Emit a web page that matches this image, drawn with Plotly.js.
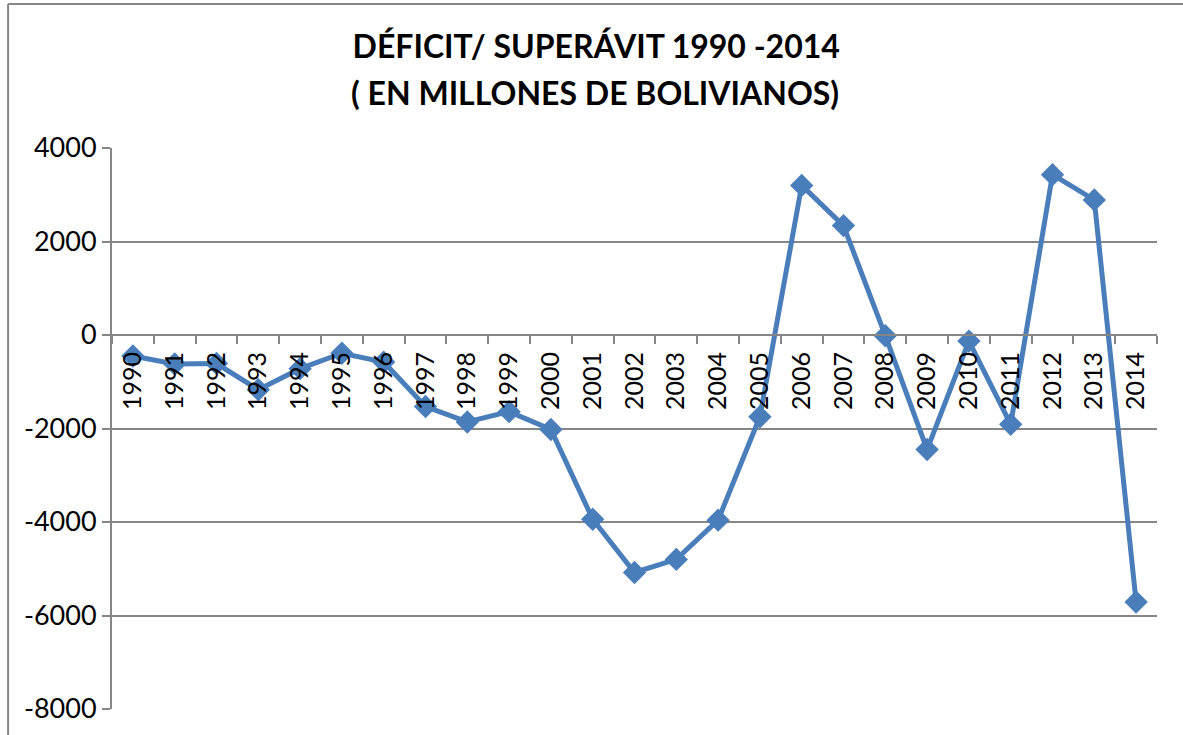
<!DOCTYPE html>
<html>
<head>
<meta charset="utf-8">
<script src="https://cdn.plot.ly/plotly-3.0.1.min.js"></script>
<style>
html,body{margin:0;padding:0;background:#fff;}
#chart{width:1183px;height:735px;}
</style>
</head>
<body>
<div id="chart"></div>
<script>
const years = ['1990','1991','1992','1993','1994','1995','1996','1997','1998','1999','2000','2001','2002','2003','2004','2005','2006','2007','2008','2009','2010','2011','2012','2013','2014'];
const balance = [-450,-620,-610,-1170,-720,-390,-580,-1530,-1860,-1640,-2020,-3940,-5080,-4800,-3960,-1750,3200,2340,-15,-2450,-130,-1910,3430,2890,-5710];
const yTicks = [4000,2000,0,-2000,-4000,-6000,-8000];
const titleLine1 = 'DÉFICIT/ SUPERÁVIT 1990 -2014';
const titleLine2 = '( EN MILLONES DE BOLIVIANOS)';

const gray = '#868686';
const font = 'Lato, "Open Sans", sans-serif';

const trace = {
  x: years,
  y: balance,
  type: 'scatter',
  mode: 'lines+markers',
  line: {color: '#4A7EBB', width: 5},
  marker: {symbol: 'diamond', size: 18, color: '#4A7EBB'},
  hoverinfo: 'x+y',
  cliponaxis: false
};

const layout = {
  width: 1183,
  height: 735,
  margin: {l: 112, r: 26, t: 148, b: 26},
  paper_bgcolor: '#ffffff',
  plot_bgcolor: '#ffffff',
  showlegend: false,
  font: {family: font, color: '#000000'},
  title: {
    text: titleLine1,
    font: {family: font, size: 32, color: '#000000', weight: 'bold'},
    x: 0.504, xanchor: 'center',
    y: 1 - 47/735, yanchor: 'middle', yref: 'container'
  },
  annotations: [{
    text: titleLine2,
    xref: 'paper', yref: 'paper',
    x: (595 - 112) / 1046, y: (709 - 93) / 561,
    xanchor: 'center', yanchor: 'middle',
    showarrow: false,
    font: {family: font, size: 32, color: '#000000', weight: 'bold'}
  }],
  xaxis: {
    type: 'category',
    categoryorder: 'array',
    categoryarray: years,
    range: [-0.5, years.length - 0.5],
    anchor: 'free',
    position: 8000 / 12000,
    showline: true,
    linecolor: gray,
    linewidth: 2,
    showgrid: false,
    zeroline: false,
    ticks: 'outside',
    tickson: 'boundaries',
    ticklen: 8,
    tickwidth: 2,
    tickcolor: gray,
    tickangle: -90,
    ticklabelstandoff: 6,
    tickfont: {family: font, size: 25, color: '#000000'},
    fixedrange: true
  },
  yaxis: {
    range: [-8000, 4000],
    tickvals: yTicks,
    ticktext: yTicks.map(String),
    showgrid: true,
    gridcolor: gray,
    gridwidth: 2,
    zeroline: false,
    showline: true,
    linecolor: gray,
    linewidth: 2,
    ticks: 'outside',
    ticklen: 8,
    tickwidth: 2,
    tickcolor: gray,
    tickfont: {family: font, size: 27, color: '#000000'},
    fixedrange: true
  },
  shapes: [
    {type: 'line', xref: 'paper', yref: 'paper',
     x0: (8 - 112) / 1046, x1: (8 - 112) / 1046,
     y0: (709 - 4) / 561, y1: (709 - 740) / 561,
     line: {color: gray, width: 2}},
    {type: 'line', xref: 'paper', yref: 'paper',
     x0: (8 - 112) / 1046, x1: (1190 - 112) / 1046,
     y0: (709 - 4) / 561, y1: (709 - 4) / 561,
     line: {color: gray, width: 2}}
  ]
};

Plotly.newPlot('chart', [trace], layout, {displayModeBar: false, staticPlot: true});
</script>
</body>
</html>
